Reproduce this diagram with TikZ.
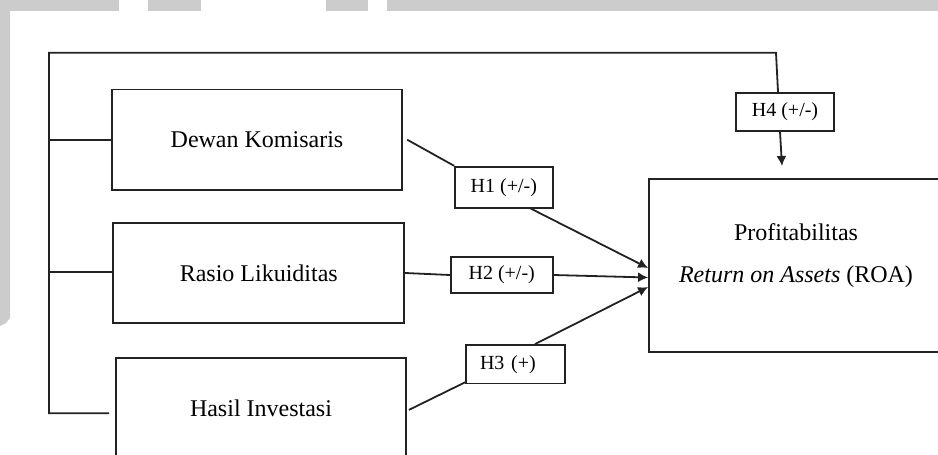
\documentclass[tikz,border=0pt]{standalone}
\usepackage{fontspec}
\setmainfont{Liberation Serif}
\usetikzlibrary{arrows.meta}
\definecolor{barg}{RGB}{204,204,204}
\definecolor{ln}{RGB}{34,34,34}
\tikzset{
  bigbox/.style={draw=ln, line width=0.9pt, rectangle, inner sep=0pt, font=\fontsize{12}{14}\selectfont},
  hbox/.style={draw=ln, line width=0.9pt, rectangle, inner sep=0pt, font=\fontsize{10}{12}\selectfont},
  conn/.style={draw=ln, line width=0.9pt},
  arr/.style={conn, -{Latex[length=5pt,width=5pt]}},
  bar/.style={fill=barg, draw=none},
  txt/.style={inner sep=0pt, font=\fontsize{12}{14}\selectfont}
}
\begin{document}
\begin{tikzpicture}[x=0.5pt, y=-0.5pt]
\useasboundingbox (0,0) rectangle (938,455);
\clip (0,0) rectangle (938,455);
% header bars
\fill[bar] (0,0) rectangle (119,11);
\fill[bar] (148,0) rectangle (201,11);
\fill[bar] (326,0) rectangle (368,11);
\fill[bar] (387,0) rectangle (938,11);
\fill[bar] (0,0) -- (10,0) -- (10,318) -- (6,323) -- (0,326) -- cycle;
% boxes
\node[bigbox, minimum width=145.3pt, minimum height=50.3pt] (dewan) at (257,139.7) {Dewan Komisaris};
\node[bigbox, minimum width=145.5pt, minimum height=50.3pt] (rasio) at (258.8,273) {Rasio Likuiditas};
\node[bigbox, minimum width=145pt, minimum height=50pt] (hasil) at (261,408.3) {\raisebox{-1pt}{Hasil Investasi}};
\node[bigbox, minimum width=146.5pt, minimum height=86.2pt] (prof) at (795.5,265.5) {};
\node[txt] (proft1) at (796,232) {Profitabilitas};
\node[txt] (proft2) at (796,277) {\textit{Return on Assets} (ROA)};
% hypothesis boxes
\node[hbox, minimum width=48.8pt, minimum height=20.5pt] (h1) at (503.8,187.2) {H1 (+/-)};
\node[hbox, minimum width=51pt, minimum height=18.3pt] (h2) at (501.7,275) {H2 (+/-)};
\node[hbox, minimum height=19.2pt, text width=35.5pt, inner xsep=7pt, align=left] (h3) at (515.5,364.2) {H3 (+)};
\node[hbox, minimum width=49pt, minimum height=19pt] (h4) at (785,111.7) {H4 (+/-)};
% frame coordinates
\coordinate (tl) at (49,52.7);
\coordinate (tr) at (776,52.7);
\coordinate (bl) at (49,413.3);
\coordinate (hstub) at (109,413.3);
\coordinate (h4end) at (782,166);
\coordinate (tip1) at ([yshift=-1.25pt]prof.west);
\coordinate (tip2) at ([yshift=-6pt]prof.west);
\coordinate (tip3) at ([yshift=-10.75pt]prof.west);
% frame
\draw[conn] (hstub) -- (bl) -- (tl) -- (tr) -- ([xshift=-3.5pt]h4.north);
\draw[conn] (dewan.west -| tl) -- (dewan.west);
\draw[conn] ([yshift=0.5pt]rasio.west -| tl) -- ([yshift=0.5pt]rasio.west);
% paths
\draw[conn] ([xshift=2pt]dewan.east) -- (h1.north west);
\draw[arr] ([xshift=13.5pt]h1.south) -- (tip1);
\draw[conn] (rasio.east) -- (h2.west);
\draw[arr] (h2.east) -- (tip2);
\draw[conn] ([xshift=1pt,yshift=-0.8pt]hasil.east) -- ([yshift=1pt]h3.south west);
\draw[arr] ([xshift=9.75pt]h3.north) -- (tip3);
\draw[arr] ([xshift=-2.5pt]h4.south) -- (h4end);
\end{tikzpicture}
\end{document}
